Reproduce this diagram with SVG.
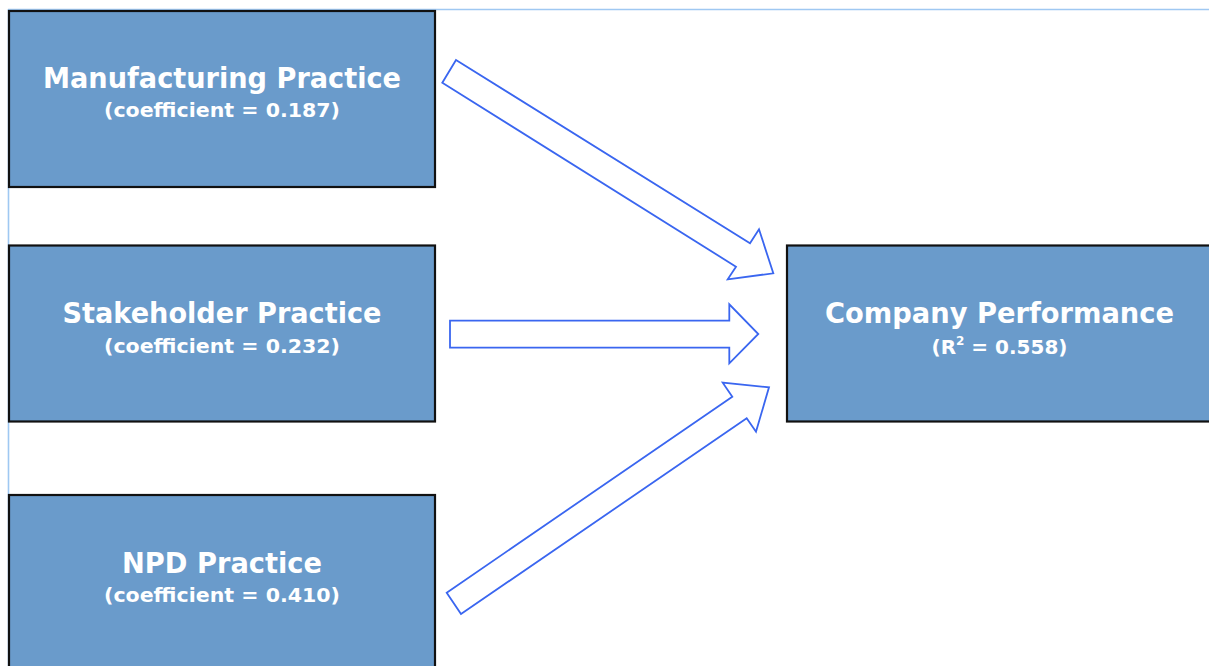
<svg xmlns="http://www.w3.org/2000/svg" width="1209" height="666" viewBox="0 0 1209 666">
<style>
.box{fill:#6a9bcb;stroke:#111;stroke-width:2.2}
.t{font-family:"DejaVu Sans",Verdana,sans-serif;font-weight:bold;fill:#fff;text-anchor:middle}
.h{font-size:29px}
.s{font-size:20px}
.arr{fill:#fff;stroke:#3a66f0;stroke-width:1.8;stroke-linejoin:miter}
.frame{stroke:#9fc8f2;stroke-width:1.6;fill:none}
</style>
<rect width="1209" height="666" fill="#fff"/>
<g id="frame">
<line class="frame" x1="8" y1="9.5" x2="1209" y2="9.5"/>
<line class="frame" x1="8.5" y1="9" x2="8.5" y2="666"/>
</g>
<g id="connectors">
<polygon class="arr" points="456,60 750,243.3 759,229.3 773.3,273.3 727.7,279.3 736,266.7 442.3,82.7"/>
<polygon class="arr" points="450,320.7 729.3,320.7 729.3,304.3 758.3,334 729.3,363.3 729.3,347.7 450,347.7"/>
<polygon class="arr" points="446.7,592.7 732.3,396.7 722.7,382.7 769,387.3 756,431.7 746.7,418.3 461,614"/>
</g>
<g id="manufacturing">
<rect class="box" x="9" y="11" width="426" height="176"/>
<text class="t h" x="222" y="88" textLength="358" lengthAdjust="spacingAndGlyphs">Manufacturing Practice</text>
<text class="t s" x="222" y="117" textLength="236" lengthAdjust="spacingAndGlyphs">(coefficient = 0.187)</text>
</g>
<g id="stakeholder">
<rect class="box" x="9" y="245.5" width="426" height="176"/>
<text class="t h" x="222" y="323" textLength="319" lengthAdjust="spacingAndGlyphs">Stakeholder Practice</text>
<text class="t s" x="222" y="353" textLength="236" lengthAdjust="spacingAndGlyphs">(coefficient = 0.232)</text>
</g>
<g id="npd">
<rect class="box" x="9" y="495" width="426" height="180"/>
<text class="t h" x="222" y="573" textLength="200" lengthAdjust="spacingAndGlyphs">NPD Practice</text>
<text class="t s" x="222" y="602" textLength="236" lengthAdjust="spacingAndGlyphs">(coefficient = 0.410)</text>
</g>
<g id="performance">
<rect class="box" x="787" y="245.5" width="430" height="176"/>
<text class="t h" x="999.5" y="323" textLength="349" lengthAdjust="spacingAndGlyphs">Company Performance</text>
<text class="t s" x="999.5" y="354">(R<tspan font-size="12" dy="-9">2</tspan><tspan dy="9"> = 0.558)</tspan></text>
</g>
</svg>
